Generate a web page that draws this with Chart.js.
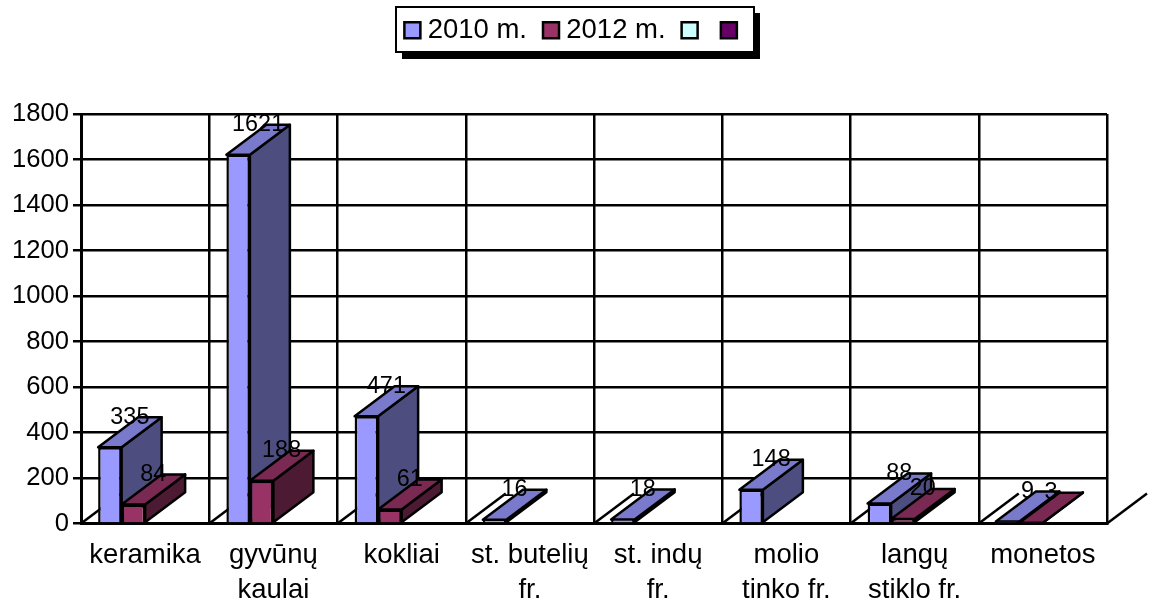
<!DOCTYPE html>
<html><head><meta charset="utf-8">
<script src="https://cdn.jsdelivr.net/npm/chart.js@4"></script>
<style>html,body{margin:0;padding:0;background:#fff}canvas{display:block}</style>
</head><body>
<canvas id="c" width="1155" height="605"></canvas>
<script>
const categories = ['keramika',['gyvūnų','kaulai'],'kokliai',['st. butelių','fr.'],['st. indų','fr.'],['molio','tinko fr.'],['langų','stiklo fr.'],'monetos'];
const values2010 = [335,1621,471,16,18,148,88,9];
const values2012 = [84,188,61,null,null,null,20,3];
const emptyA = [null,null,null,null,null,null,null,null];
const emptyB = [null,null,null,null,null,null,null,null];
const yTicks = {min:0,max:1800,step:200};
const DX = 40, DY = -30;
const LW = 2.5;
const shades = [{top:'#7a7acc',side:'#4d4d80'},{top:'#7a2952',side:'#4d1a33'}];
const FONT = 'Arial, "Liberation Sans", sans-serif';

const threeD = {
  id:'threeD',
  beforeDraw(chart){
    const c = chart.ctx; c.save();
    c.fillStyle='#000'; c.fillRect(402,13,358,46);
    c.fillStyle='#fff'; c.strokeStyle='#000'; c.lineWidth=2;
    c.fillRect(396,7,358,45); c.strokeRect(396,7,358,45);
    c.restore();
  },
  afterLayout(chart){
    const l = chart.legend;
    const shift = 24, h = l.height, top = 29 - h/2 - 5;
    l.left += shift; l.right += shift; l.top = top; l.bottom = top + h;
  },
  beforeDatasetsDraw(chart){
    const c = chart.ctx, x = chart.scales.x, b = chart.scales.y.bottom;
    c.save(); c.strokeStyle='#000'; c.lineWidth=LW; c.lineJoin='round';
    for(let i=0;i<=categories.length;i++){
      const px = x.left + i*(x.right-x.left)/categories.length;
      c.beginPath(); c.moveTo(px,b); c.lineTo(px+DX,b+DY); c.stroke();
    }
    [0,1].forEach(k=>{
      chart.getDatasetMeta(k).data.forEach((el,j)=>{
        const v = chart.data.datasets[k].data[j];
        if(v==null) return;
        const l = el.x-el.width/2, r = el.x+el.width/2, t = el.y, bs = el.base;
        c.fillStyle = shades[k].side;
        c.beginPath(); c.moveTo(r,t); c.lineTo(r+DX,t+DY); c.lineTo(r+DX,bs+DY); c.lineTo(r,bs); c.closePath(); c.fill(); c.stroke();
        c.fillStyle = shades[k].top;
        c.beginPath(); c.moveTo(l,t); c.lineTo(l+DX,t+DY); c.lineTo(r+DX,t+DY); c.lineTo(r,t); c.closePath(); c.fill(); c.stroke();
      });
    });
    c.restore();
  },
  afterDatasetsDraw(chart){
    const c = chart.ctx;
    c.save(); c.fillStyle='#000'; c.font='23.4px '+FONT; c.textAlign='center'; c.textBaseline='middle';
    [0,1].forEach(k=>{
      chart.getDatasetMeta(k).data.forEach((el,j)=>{
        const v = chart.data.datasets[k].data[j];
        if(v==null) return;
        c.fillText(String(v), el.x+DX/2, el.y+DY);
      });
    });
    c.restore();
  }
};

new Chart(document.getElementById('c'),{
  type:'bar',
  data:{labels:categories,datasets:[
    {label:'2010 m.',data:values2010,backgroundColor:'#9999ff',borderColor:'#000',borderWidth:LW},
    {label:'2012 m.',data:values2012,backgroundColor:'#993366',borderColor:'#000',borderWidth:LW},
    {label:'',data:emptyA,backgroundColor:'#ccffff',borderColor:'#000',borderWidth:LW},
    {label:'',data:emptyB,backgroundColor:'#660066',borderColor:'#000',borderWidth:LW}
  ]},
  options:{
    responsive:false,animation:false,
    layout:{padding:{left:0,right:48,top:54,bottom:0}},
    categoryPercentage:0.733,barPercentage:1,
    plugins:{
      tooltip:{enabled:false},
      legend:{display:true,position:'top',labels:{
        usePointStyle:true,pointStyle:'rect',boxWidth:3,boxHeight:16,padding:22.5,color:'#000',
        font:{family:FONT,size:27.5}
      }}
    },
    scales:{
      x:{
        afterFit(s){s.height=81.5;},
        grid:{color:'#000',lineWidth:LW,drawTicks:false},
        border:{color:'#000',width:3},
        ticks:{color:'#000',font:{family:FONT,size:27.5,lineHeight:1.28},padding:14,autoSkip:false,maxRotation:0,minRotation:0}
      },
      y:{
        min:yTicks.min,max:yTicks.max,
        afterFit(s){s.width=81;},
        grid:{color:'#000',lineWidth:LW,tickLength:8},
        border:{color:'#000',width:3},
        ticks:{color:'#000',stepSize:yTicks.step,font:{family:FONT,size:25.6},padding:4,callback:v=>String(v)}
      }
    }
  },
  plugins:[threeD]
});
</script>
</body></html>
